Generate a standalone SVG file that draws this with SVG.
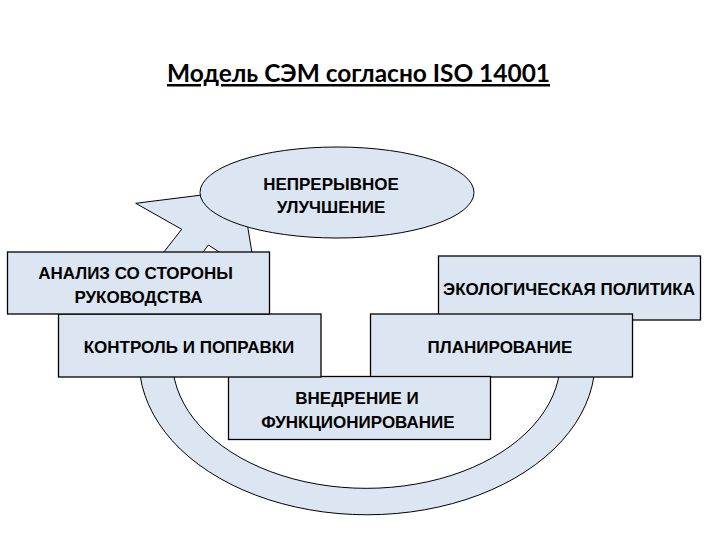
<svg xmlns="http://www.w3.org/2000/svg" width="720" height="540" viewBox="0 0 720 540">
<style>
.shape{fill:#dce6f2;stroke:#000;stroke-width:1}
.box{fill:#dce6f2;stroke:#000;stroke-width:1.3}
.lbl{font-family:"Liberation Sans",Arial,sans-serif;font-weight:bold;font-size:17px;fill:#000;text-anchor:middle}
.title{font-family:Lato,"Open Sans",sans-serif;font-weight:bold;font-size:25px;fill:#000;text-decoration:underline}
</style>
<rect width="720" height="540" fill="#fff"/>
<text class="title" x="167" y="82" textLength="383" lengthAdjust="spacingAndGlyphs">Модель СЭМ согласно ISO 14001</text>
<g id="connectors">
<path class="shape" d="M 569.6 290 A 228 154 0 1 1 164.6 290 L 164.3 251.5 L 181.7 229.3 L 135.7 203.3 L 242 190 L 247.7 226.7 L 251.7 251 L 258 295 L 195.3 300 A 194 128 0 1 0 537.5 300 Z"/>
<polygon points="202.8,252.5 208.3,245 220,252.5" fill="#fff" stroke="#000" stroke-width="1"/>
</g>
<g id="improvement">
<ellipse class="shape" cx="337" cy="192.5" rx="137" ry="45.5"/>
<text class="lbl" x="331" y="190">НЕПРЕРЫВНОЕ</text>
<text class="lbl" x="331" y="213">УЛУЧШЕНИЕ</text>
</g>
<g id="policy">
<rect class="box" x="438.5" y="256" width="262" height="64"/>
<text class="lbl" x="569" y="295">ЭКОЛОГИЧЕСКАЯ ПОЛИТИКА</text>
</g>
<g id="planning">
<rect class="box" x="370.5" y="314" width="262" height="63"/>
<text class="lbl" x="500" y="353">ПЛАНИРОВАНИЕ</text>
</g>
<g id="implementation">
<rect class="box" x="228.5" y="376.5" width="262" height="63"/>
<text class="lbl" x="357" y="404">ВНЕДРЕНИЕ И</text>
<text class="lbl" x="358" y="428">ФУНКЦИОНИРОВАНИЕ</text>
</g>
<g id="checking">
<rect class="box" x="58.5" y="314" width="262.5" height="63"/>
<text class="lbl" x="189" y="353">КОНТРОЛЬ И ПОПРАВКИ</text>
</g>
<g id="review">
<rect class="box" x="7.5" y="252" width="262" height="62"/>
<text class="lbl" x="135.5" y="279">АНАЛИЗ СО СТОРОНЫ</text>
<text class="lbl" x="138.5" y="302.5">РУКОВОДСТВА</text>
</g>
</svg>
